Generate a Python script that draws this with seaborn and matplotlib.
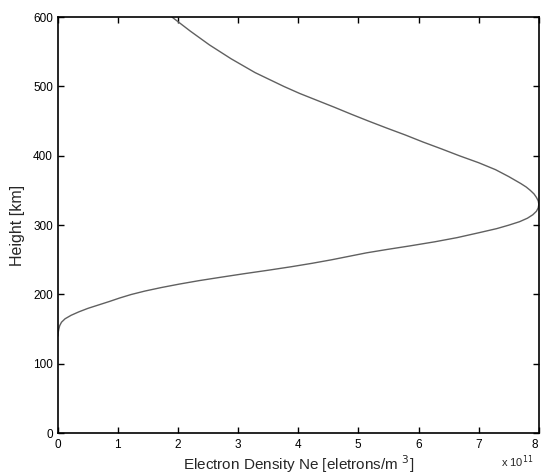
import numpy as np
import pandas as pd
import matplotlib
matplotlib.use("Agg")
import matplotlib.pyplot as plt
import seaborn as sns
from matplotlib.ticker import ScalarFormatter

# electron density profile (units of 1e11 el/m^3)
height_km = [140, 145, 150, 155, 160, 165, 170, 175, 180, 185, 190, 195, 200, 205, 210,
             215, 220, 225, 230, 235, 240, 245, 250, 255, 260, 265, 270, 276, 282, 289,
             295, 300, 305, 310, 315, 320, 325, 330, 335, 340, 345, 350, 355, 360, 370,
             380, 390, 400, 410, 420, 430, 440, 450, 460, 470, 480, 490, 500, 520, 540,
             560, 580, 600]
ne_e11 = [0.0, 0.005, 0.015, 0.03, 0.06, 0.12, 0.22, 0.35, 0.5, 0.68, 0.86, 1.03, 1.22,
          1.45, 1.72, 2.02, 2.35, 2.72, 3.1, 3.5, 3.88, 4.23, 4.55, 4.84, 5.13, 5.48, 5.85,
          6.27, 6.64, 7.0, 7.3, 7.5, 7.68, 7.81, 7.9, 7.96, 7.99, 8.0, 7.99, 7.96, 7.92,
          7.86, 7.79, 7.7, 7.5, 7.28, 7.0, 6.68, 6.38, 6.07, 5.78, 5.47, 5.17, 4.88, 4.6,
          4.31, 4.02, 3.76, 3.28, 2.88, 2.52, 2.2, 1.9]

df = pd.DataFrame({"ne": np.array(ne_e11) * 1e11, "height": height_km})

sns.set_style("ticks")
plt.rcParams["font.family"] = ["Liberation Sans Narrow", "Liberation Sans", "DejaVu Sans"]
plt.rcParams["xtick.direction"] = "in"
plt.rcParams["ytick.direction"] = "in"
plt.rcParams["xtick.top"] = True
plt.rcParams["ytick.right"] = True

fig = plt.figure(figsize=(5.41, 4.76), dpi=100)
ax = fig.add_axes([0.107, 0.090, 0.889, 0.874])

sns.lineplot(data=df, x="ne", y="height", sort=False, estimator=None,
             color="#606060", linewidth=1.0, ax=ax)

ax.set_xlim(0, 8e11)
ax.set_ylim(0, 600)
ax.set_xticks(np.arange(0, 9) * 1e11)
ax.set_yticks(np.arange(0, 700, 100))

fmt = ScalarFormatter(useMathText=True)
fmt.set_powerlimits((0, 0))
ax.xaxis.set_major_formatter(fmt)
ax.xaxis.get_offset_text().set_visible(False)
fig.text(0.985, 0.012, r"x 10$^{11}$", ha="right", va="bottom", fontsize=8)

ax.tick_params(labelsize=8.5, length=4, width=1, colors="black")
for s in ax.spines.values():
    s.set_linewidth(1.2)
    s.set_color("black")

# last tick label sits on the figure edge, keep it inside
fig.canvas.draw()
ax.get_xticklabels()[-1].set_horizontalalignment("right")

ax.set_xlabel("Electron Density Ne [eletrons/m $^3$]", fontsize=11,
              family=["Liberation Sans", "DejaVu Sans"], labelpad=2)
ax.set_ylabel("Height [km]", fontsize=11.5, family=["Liberation Sans", "DejaVu Sans"], labelpad=6)

fig.savefig("out.png", dpi=100)
